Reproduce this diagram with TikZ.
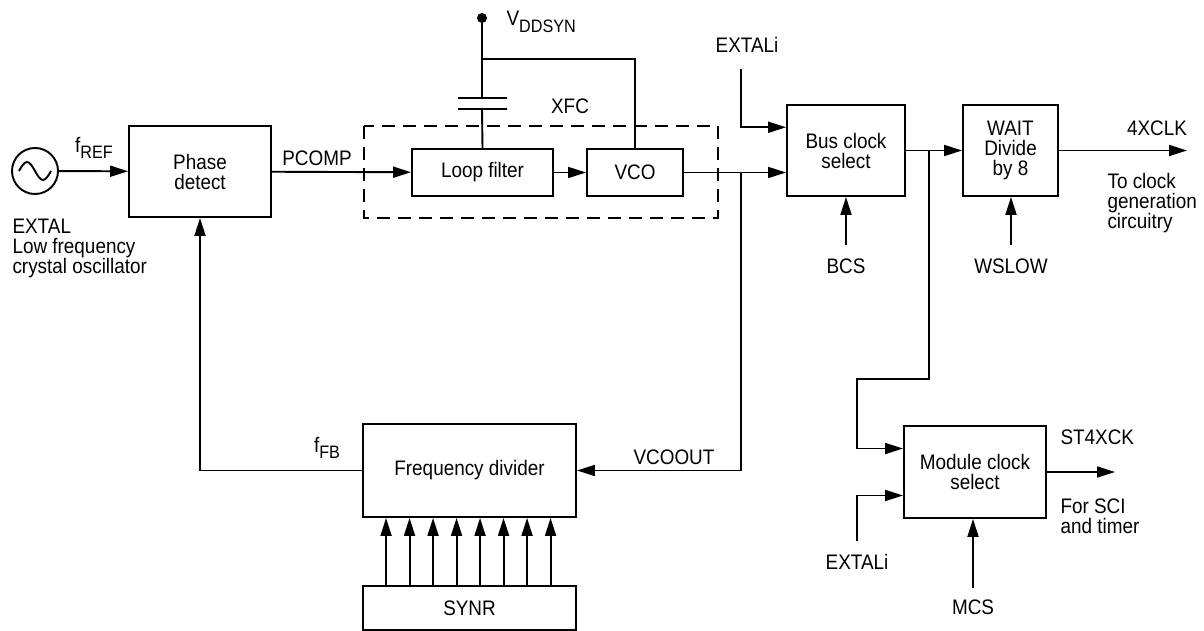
\documentclass[tikz,border=0pt]{standalone}
\usepackage{fontspec}
\setmainfont[FakeStretch=0.9]{Liberation Sans}
\usetikzlibrary{arrows.meta,positioning,calc}
\newcommand{\lowsub}[1]{\raisebox{-0.3em}{\fontsize{18}{18}\selectfont #1}}
\tikzset{
    wire/.style={line width=1.9pt},
    arr/.style={wire,-{Triangle[length=18pt,width=11pt]}},
    block/.style={draw,wire,align=center,inner sep=0pt},
    dashed box/.style={wire,dash pattern=on 13pt off 8pt},
    oscillator/.style={draw,wire,circle,minimum size=46pt,inner sep=0pt},
    supply dot/.style={circle,fill,minimum size=10pt,inner sep=0pt},
    text left/.style={anchor=west,align=left},
}
\tikzstyle{every node}=[font=\fontsize{21}{20}\selectfont]

\begin{document}
\begin{tikzpicture}[x=1pt,y=-1pt]
        \useasboundingbox (0,0) rectangle (1204,631);
        % reference oscillator
        \node[oscillator] (osc) at (35,171) {};
        \draw[wire] (19,171) sin (27,162) cos (35,171) sin (43,180) cos (51,171);
        \node[text left] (extal) at (9,248) {EXTAL\\Low frequency\\crystal oscillator};

        % blocks
        \node[block,minimum width=142,minimum height=91] (phase) at (200,171.5) {Phase\\detect};
        \node[block,minimum width=141,minimum height=47] (loop filter) at (482.5,172.5) {Loop filter};
        \node[block,minimum width=96,minimum height=47] (vco) at (635,172.5) {VCO};
        \draw[dashed box] (364,126) rectangle (718,218);
        \node[block,minimum width=118,minimum height=91] (bus) at (846,150.5) {Bus clock\\select};
        \node[block,minimum width=95,minimum height=91] (wait) at (1010.5,150.5) {WAIT\\Divide\\by 8};
        \node[block,minimum width=142,minimum height=92] (module) at (975,472) {Module clock\\select};
        \node[block,minimum width=213,minimum height=93] (divider) at (469.5,470.5) {Frequency divider};
        \node[block,minimum width=213,minimum height=44] (synr) at (469.5,608) {SYNR};

        % supply and filter capacitor
        \node[supply dot] (vdd) at (482,18) {};
        \node[text left] at (503,22) {V\lowsub{DDSYN}};
        \coordinate (cap top) at (482,98);
        \coordinate (cap bottom) at (482,109);
        \coordinate (vdd branch) at (482,59);
        \draw[wire] (vdd) -- (cap top)
            (cap bottom) -- (loop filter.north)
            ($(cap top)+(-24,0)$) -- ++(49,0)
            ($(cap bottom)+(-24,0)$) -- ++(49,0);
        \draw[wire] (vdd branch) -| (vco.north);
        \node at (570,106) {XFC};

        % forward path
        \draw[arr] (osc) -- (phase);
        \node at (94,148) {f\lowsub{REF}};
        \draw[arr] (phase) -- (loop filter);
        \node at (317,158) {PCOMP};
        \draw[arr] (loop filter) -- (vco);
        \draw[arr] (vco) -- (vco -| bus.west);

        % feedback path
        \coordinate (vco split) at (741,172.5);
        \draw[arr] (vco split) |- (divider.east);
        \node at (674,457) {VCOOUT};
        \draw[arr] (divider.west) -| (phase.south);
        \node at (327,448) {f\lowsub{FB}};
        \foreach \i in {0,...,7}
            \draw[arr] ($(synr.north west)+(24+23.5*\i,0)$) -- ($(divider.south west)+(24+23.5*\i,0)$);

        % bus clock select
        \coordinate (extali top) at (741,69);
        \node (extali top label) at (747,45) {EXTALi};
        \draw[arr] (extali top) |- ($(bus.north west)!0.25!(bus.south west)$);
        \node (bcs) at (846,266) {BCS};
        \draw[arr,shorten <=10pt] (bcs.north) -- (bcs.north |- bus.south);
        \draw[arr] (bus) -- (wait);

        % wait divider
        \node (wslow) at (1011,266) {WSLOW};
        \draw[arr,shorten <=10pt] (wslow.north) -- (wslow.north |- wait.south);
        \coordinate (clk out) at (1187,150.5);
        \draw[arr] (wait) -- (clk out);
        \node at (1157,128) {4XCLK};
        \node[text left] at (1104,203) {To clock\\generation\\circuitry};

        % module clock select
        \coordinate (bus split) at (929,150.5);
        \coordinate (module turn) at (857,379);
        \draw[arr] (bus split) |- (module turn) |- ($(module.north west)!0.25!(module.south west)$);
        \node (extali low) at (857,562) {EXTALi};
        \draw[arr,shorten <=10pt] (extali low.north) |- ($(module.north west)!0.75!(module.south west)$);
        \node (mcs) at (973,607) {MCS};
        \draw[arr,shorten <=8pt] (mcs.north) -- (mcs.north |- module.south);
        \coordinate (st out) at (1115,472);
        \draw[arr] (module) -- (st out);
        \node[text left] at (1057,437) {ST4XCK};
        \node[text left] at (1057,516) {For SCI\\and timer};
\end{tikzpicture}
\end{document}
